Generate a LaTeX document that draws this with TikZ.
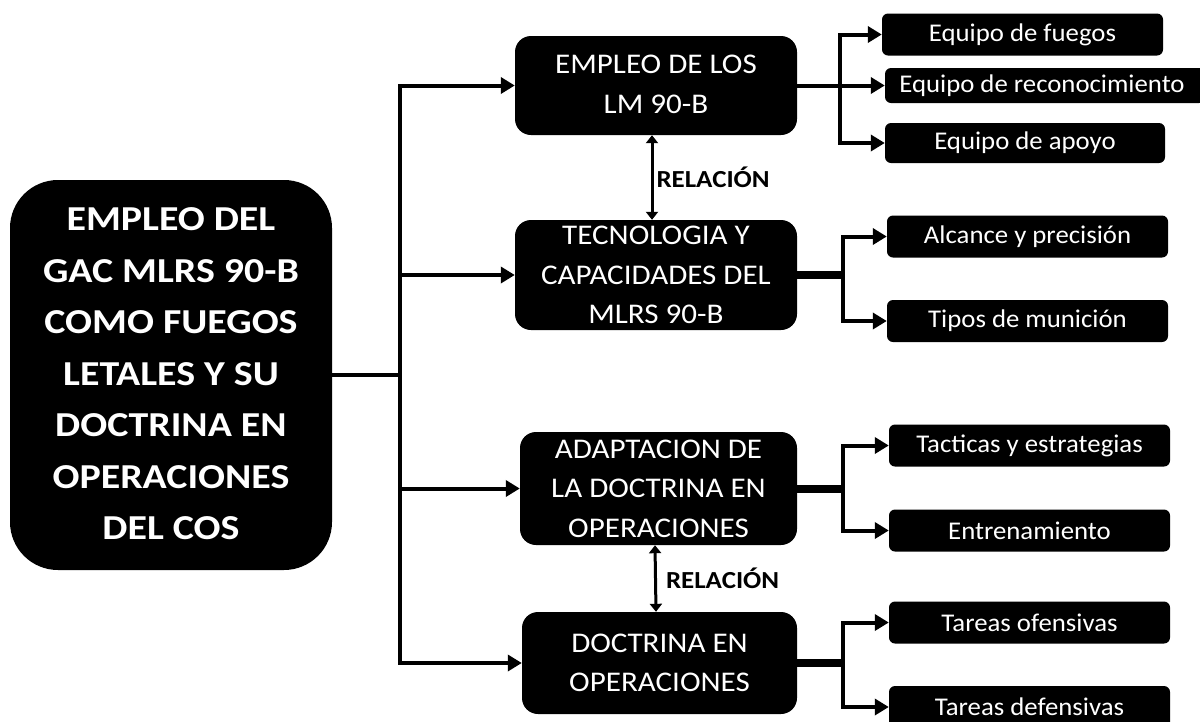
\documentclass[tikz,border=0pt]{standalone}
\usepackage{fontspec}
\setmainfont{Carlito}
\newfontfamily\bigf{Carlito}[FakeStretch=1.14]
\newfontfamily\midf{Carlito}[FakeStretch=1.09]
\newfontfamily\leaff{Carlito}[FakeStretch=1.05]
\newfontfamily\relf{Carlito}[FakeStretch=1.1]
\usetikzlibrary{arrows.meta}
\begin{document}
\begin{tikzpicture}[x=1pt,y=-1pt,
  mainbox/.style={fill=black,text=white,rounded corners=48pt,minimum width=322pt,minimum height=390pt,align=center,inner sep=0pt,font=\bigf\bfseries\fontsize{35}{51.5}\selectfont},
  midbox/.style={fill=black,text=white,rounded corners=16pt,minimum width=280pt,align=center,inner sep=0pt,font=\midf\fontsize{28.5}{39.5}\selectfont},
  leaf/.style={fill=black,text=white,rounded corners=6pt,minimum width=281pt,minimum height=42pt,inner sep=0pt,font=\leaff\fontsize{25.5}{30}\selectfont},
  wire/.style={line width=4pt},
  stub/.style={line width=8pt},
  conn/.style={line width=4pt,-{Triangle[length=14pt,width=16pt]}},
  rel/.style={line width=3pt,{Triangle[length=8pt,width=12pt]}-{Triangle[length=8pt,width=12pt]}},
  rellabel/.style={anchor=west,inner sep=3pt,font=\relf\bfseries\fontsize{24.5}{24.5}\selectfont}
]
\useasboundingbox (0,0) rectangle (1200,721);

% main node
\node[mainbox] (main) at (171,375) {\raisebox{-3pt}{\begin{tabular}{@{}c@{}}EMPLEO DEL\\GAC MLRS 90-B\\COMO FUEGOS\\LETALES Y SU\\DOCTRINA EN\\OPERACIONES\\DEL COS\end{tabular}}};

% middle nodes
\node[midbox,minimum width=282pt,minimum height=99pt] (b1) at (656,85.5) {\raisebox{-4pt}{\begin{tabular}{@{}c@{}}EMPLEO DE LOS\\LM 90-B\end{tabular}}};
\node[midbox,minimum width=282pt,minimum height=110pt] (b2) at (656,275) {TECNOLOGIA Y\\CAPACIDADES DEL\\MLRS 90-B};
\node[midbox,minimum width=277pt,minimum height=113pt] (b3) at (658.5,488.5) {ADAPTACION DE\\LA DOCTRINA EN\\OPERACIONES};
\node[midbox,minimum width=275pt,minimum height=102pt] (b4) at (659.5,663) {DOCTRINA EN\\OPERACIONES};

% leaves
\node[leaf] (s1) at (1022.5,34.5) {Equipo de fuegos};
\node[leaf,minimum width=320pt,minimum height=35pt] (s2) at (1045,85.5) {\hspace*{-6pt}Equipo de reconocimiento};
\node[leaf,minimum width=280pt,minimum height=40pt] (s3) at (1025,143) {Equipo de apoyo};
\node[leaf] (s4) at (1027.5,236.5) {Alcance y precisión};
\node[leaf] (s5) at (1027.5,321) {Tipos de munición};
\node[leaf] (s6) at (1029.5,445.5) {Tacticas y estrategias};
\node[leaf] (s7) at (1029.5,530.5) {Entrenamiento};
\node[leaf] (s8) at (1029.5,622.5) {Tareas ofensivas};
\node[leaf] (s9) at (1029.5,707) {Tareas defensivas};

% trunk
\coordinate (tr) at (400,375);
\draw[wire] (main.east |- tr) -- (tr);
\draw[wire,line cap=rect] (tr |- b1) -- (tr |- b4);
\foreach \b in {b1,b2,b3,b4} \draw[conn] (tr |- \b) -- (\b.west);

% right side, group 1
\coordinate (r1) at (840,0);
\draw[wire] (b1.east) -- (r1 |- b1);
\draw[wire,line cap=rect] (r1 |- s1) -- (r1 |- s3);
\foreach \s in {s1,s2,s3} \draw[conn] (r1 |- \s) -- (\s.west);

% group 2
\coordinate (r2) at (843,0);
\draw[stub] (b2.east) -- (r2 |- b2);
\draw[wire,line cap=rect] (r2 |- s4) -- (r2 |- s5);
\foreach \s in {s4,s5} \draw[conn] (r2 |- \s) -- (\s.west);

% group 3
\draw[stub] (b3.east) -- (r2 |- b3);
\draw[wire,line cap=rect] (r2 |- s6) -- (r2 |- s7);
\foreach \s in {s6,s7} \draw[conn] (r2 |- \s) -- (\s.west);

% group 4
\draw[stub] (b4.east) -- (r2 |- b4);
\draw[wire,line cap=rect] (r2 |- s8) -- (r2 |- s9);
\foreach \s in {s8,s9} \draw[conn] (r2 |- \s) -- (\s.west);

% relations
\draw[rel] ([xshift=-4pt]b1.south) -- node[rellabel] (rl1) {RELACIÓN} ([xshift=-4pt]b2.north);
\draw[rel] ([xshift=-3.5pt]b3.south) -- node[rellabel,xshift=6pt] (rl2) {RELACIÓN} ([xshift=-3.5pt]b4.north);
\end{tikzpicture}
\end{document}
